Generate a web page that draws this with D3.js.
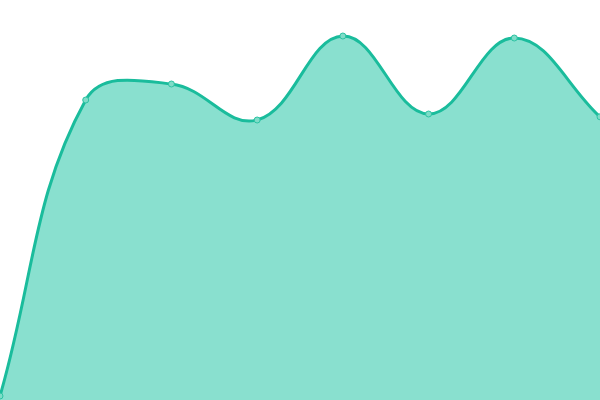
<!DOCTYPE html>
<html>
<head>
<meta charset="utf-8">
<script src="https://cdn.jsdelivr.net/npm/d3@7"></script>
<style>
  html, body { margin: 0; padding: 0; background: #ffffff; overflow: hidden; }
  svg { display: block; }
</style>
</head>
<body>
<svg id="chart" width="600" height="400"></svg>
<script>
// Data
const categories = ["1", "2", "3", "4", "5", "6", "7", "8"];
const values = [1, 75, 79, 70, 91, 71.5, 90.5, 70.8];
const yDomain = [0, 100];

const W = 600, H = 400;
const TENSION = 0.4;

// Chart.js-like spline curve for d3
function ChartSpline(context) { this._context = context; }
ChartSpline.prototype = {
  areaStart() { this._line = 0; },
  areaEnd() { this._line = NaN; },
  lineStart() { this._xs = []; this._ys = []; },
  point(x, y) { this._xs.push(+x); this._ys.push(+y); },
  lineEnd() {
    const ctx = this._context, xs = this._xs, ys = this._ys, n = xs.length;
    if (n) {
      if (this._line) ctx.lineTo(xs[0], ys[0]); else ctx.moveTo(xs[0], ys[0]);
      if (n === 2) ctx.lineTo(xs[1], ys[1]);
      else if (n > 2) {
        const cp1x = [], cp1y = [], cp2x = [], cp2y = [];
        const clampX = v => Math.max(0, Math.min(W, v));
        const clampY = v => Math.max(0, Math.min(H, v));
        for (let i = 0; i < n; i++) {
          const pi = i === 0 ? 0 : i - 1;
          const ni = Math.min(i + 1, n - 1);
          const px = xs[pi], py = ys[pi], cx = xs[i], cy = ys[i], nx = xs[ni], ny = ys[ni];
          const d01 = Math.hypot(cx - px, cy - py);
          const d12 = Math.hypot(nx - cx, ny - cy);
          let s01 = d01 / (d01 + d12), s12 = d12 / (d01 + d12);
          if (isNaN(s01)) s01 = 0;
          if (isNaN(s12)) s12 = 0;
          const fa = TENSION * s01, fb = TENSION * s12;
          cp1x[i] = clampX(cx - fa * (nx - px));
          cp1y[i] = clampY(cy - fa * (ny - py));
          cp2x[i] = clampX(cx + fb * (nx - px));
          cp2y[i] = clampY(cy + fb * (ny - py));
        }
        for (let i = 0; i < n - 1; i++) {
          ctx.bezierCurveTo(cp2x[i], cp2y[i], cp1x[i + 1], cp1y[i + 1], xs[i + 1], ys[i + 1]);
        }
      }
    }
    if (this._line || (this._line !== 0 && n === 1)) ctx.closePath();
    this._line = 1 - this._line;
  }
};
const curveChartSpline = context => new ChartSpline(context);

const svg = d3.select("#chart");
const x = d3.scalePoint().domain(categories).range([0, W]).padding(0);
const y = d3.scaleLinear().domain(yDomain).range([H, 0]);

const data = categories.map((c, i) => ({ c, v: values[i] }));

const area = d3.area()
  .x(d => x(d.c))
  .y0(y(yDomain[0]))
  .y1(d => y(d.v))
  .curve(curveChartSpline);

const line = d3.line()
  .x(d => x(d.c))
  .y(d => y(d.v))
  .curve(curveChartSpline);

svg.append("path")
  .datum(data)
  .attr("d", area)
  .attr("fill", "#89e0cf")
  .attr("stroke", "none");

svg.append("path")
  .datum(data)
  .attr("d", line)
  .attr("fill", "none")
  .attr("stroke", "#1abc9c")
  .attr("stroke-width", 3)
  .attr("stroke-linejoin", "round");

svg.selectAll("circle.pt")
  .data(data)
  .join("circle")
  .attr("class", "pt")
  .attr("cx", d => x(d.c))
  .attr("cy", d => y(d.v))
  .attr("r", 3)
  .attr("fill", "#7fdcc8")
  .attr("stroke", "#2cc3a3")
  .attr("stroke-width", 1);
</script>
</body>
</html>
